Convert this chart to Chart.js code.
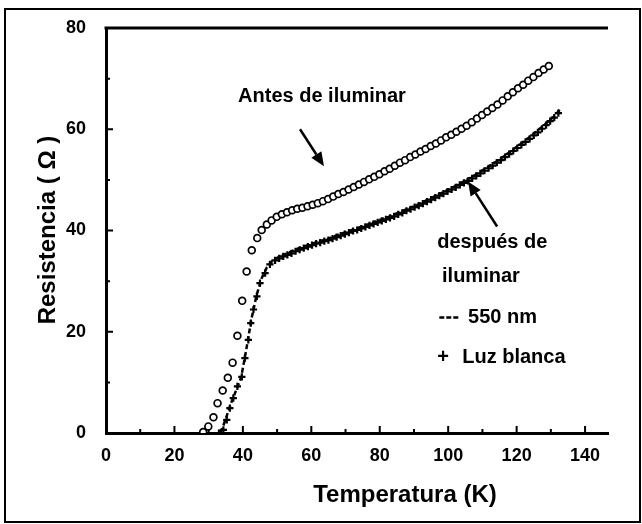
<!DOCTYPE html>
<html>
<head>
<meta charset="utf-8">
<script src="https://cdn.jsdelivr.net/npm/chart.js@4/dist/chart.umd.min.js"></script>
<style>
  html, body { margin: 0; padding: 0; background: #fff; }
  canvas { display: block; }
</style>
</head>
<body>
<canvas id="c" width="642" height="524"></canvas>
<script>
// Resistance vs temperature, before illumination (open circles)
const antesT = [28.4, 29.9, 31.4, 32.6, 34.1, 35.6, 37.0, 38.4, 39.8, 41.1, 42.6, 44.2, 45.5, 47.0, 48.4, 49.9,
  51.4, 52.9, 54.4, 55.9, 57.4, 58.9, 60.4, 61.9, 63.4, 64.9, 66.4, 67.9, 69.4, 70.9, 72.4, 73.9, 75.4, 76.9, 78.4, 79.9,
  81.4, 82.9, 84.4, 85.9, 87.4, 88.9, 90.4, 91.9, 93.4, 94.9, 96.4, 97.9, 99.4, 100.9, 102.4, 103.9, 105.4, 106.9, 108.4,
  109.9, 111.4, 112.9, 114.4, 115.9, 117.4, 118.9, 120.4, 121.9, 123.4, 124.9, 126.4, 127.9, 129.4];
const antesR = [0.2, 1.3, 3.1, 5.9, 8.4, 10.9, 13.9, 19.2, 26.1, 31.9, 36.1, 38.5, 40.1, 41.2, 42.0, 42.7,
  43.2, 43.6, 44.0, 44.3, 44.5, 44.8, 45.1, 45.4, 45.8, 46.2, 46.7, 47.2, 47.6, 48.1, 48.6, 49.1, 49.6, 50.1, 50.6, 51.1,
  51.7, 52.2, 52.8, 53.4, 53.9, 54.5, 55.0, 55.6, 56.1, 56.7, 57.2, 57.8, 58.4, 58.9, 59.5, 60.1, 60.7, 61.4, 62.1,
  62.8, 63.5, 64.2, 64.9, 65.7, 66.5, 67.3, 68.1, 68.8, 69.6, 70.3, 71.1, 71.8, 72.5];

// After illumination with white light (+ markers)
const blancaT = [33.0, 34.3, 35.3, 36.2, 37.2, 38.4, 39.7, 40.6, 41.6, 42.3, 43.1, 44.1, 45.0, 46.5, 47.9, 49.4,
  50.6, 51.8, 53.0, 54.2, 55.4, 56.6, 57.8, 59.0, 60.2, 61.4, 62.6, 63.8, 65.0, 66.2, 67.4, 68.6, 69.8, 71.0, 72.2,
  73.4, 74.6, 75.8, 77.0, 78.2, 79.4, 80.6, 81.8, 83.0, 84.2, 85.4, 86.6, 87.8, 89.0, 90.2, 91.4, 92.6, 93.8, 95.0,
  96.2, 97.4, 98.6, 99.8, 101.0, 102.2, 103.4, 104.6, 105.8, 107.0, 108.2, 109.4, 110.6, 111.8, 113.0, 114.2, 115.4,
  116.6, 117.8, 119.0, 120.2, 121.4, 122.6, 123.8, 125.0, 126.2, 127.4, 128.6, 129.8, 131.0, 132.2];
const blancaR = [0.0, 0.6, 2.6, 4.9, 6.9, 9.2, 11.1, 14.8, 18.4, 21.7, 24.4, 27.0, 29.6, 31.6, 33.3, 34.1,
  34.5, 34.9, 35.2, 35.5, 35.9, 36.2, 36.5, 36.8, 37.1, 37.4, 37.6, 37.9, 38.1, 38.4, 38.7, 39.0, 39.3, 39.6, 39.9,
  40.1, 40.4, 40.7, 41.0, 41.3, 41.6, 41.9, 42.2, 42.5, 42.8, 43.2, 43.5, 43.9, 44.2, 44.6, 44.9, 45.3, 45.7, 46.1,
  46.5, 46.9, 47.3, 47.7, 48.1, 48.5, 49.0, 49.4, 49.8, 50.3, 50.8, 51.3, 51.8, 52.3, 52.8, 53.4, 53.9,
  54.5, 55.1, 55.7, 56.3, 56.9, 57.5, 58.1, 58.8, 59.4, 60.1, 60.8, 61.6, 62.3, 63.2];

// After illumination at 550 nm (dashed line)
const nm550T = [33.5, 35.0, 36.5, 38.0, 39.5, 41.0, 42.5, 44.0, 45.5, 47.0, 48.5, 50.0, 53.0, 56.0, 59.0, 62.0, 65.0,
  68.0, 71.0, 74.0, 77.0, 80.0, 83.0, 86.0, 89.0, 92.0, 95.0, 98.0, 101.0, 104.0, 107.0, 110.0, 113.0, 116.0, 119.0,
  122.0, 125.0, 128.0, 131.0, 132.8];
const nm550R = [0.0, 2.8, 5.8, 8.4, 11.0, 16.5, 22.5, 27.2, 30.6, 32.7, 33.9, 34.6, 35.5, 36.4, 37.1, 37.8, 38.4,
  39.2, 39.9, 40.6, 41.3, 42.1, 42.8, 43.7, 44.5, 45.4, 46.4, 47.4, 48.4, 49.5, 50.6, 51.9, 53.1, 54.5, 56.0,
  57.5, 59.1, 60.8, 62.6, 64.0];

const xTicks = [0, 20, 40, 60, 80, 100, 120, 140];
const yTicks = [0, 20, 40, 60, 80];
const xMax = 146.7;

const FONT = "'Liberation Sans', Arial, Helvetica, sans-serif";

const toXY = (xs, ys) => xs.map((x, i) => ({ x: x, y: ys[i] }));

// Frame, inward ticks, axis titles and annotations
const decor = {
  id: 'decor',
  afterDraw(chart) {
    const ctx = chart.ctx;
    const xs = chart.scales.x, ys = chart.scales.y;
    const a = chart.chartArea;
    const X = v => xs.getPixelForValue(v);
    const Y = v => ys.getPixelForValue(v);
    ctx.save();

    // outer frame
    ctx.strokeStyle = '#000';
    ctx.lineWidth = 2;
    ctx.strokeRect(5, 9, 635, 513);

    // top line of the plot box
    ctx.lineWidth = 3;
    ctx.beginPath();
    ctx.moveTo(a.left - 1.5, a.top);
    ctx.lineTo(a.right, a.top);
    ctx.stroke();

    // inward ticks
    ctx.lineWidth = 2;
    ctx.beginPath();
    for (let v = 10; v <= 140; v += 10) {
      const len = v % 20 === 0 ? 7 : 4;
      ctx.moveTo(X(v), a.bottom);
      ctx.lineTo(X(v), a.bottom - len);
    }
    for (let v = 10; v < 80; v += 10) {
      const len = v % 20 === 0 ? 7 : 4;
      ctx.moveTo(a.left, Y(v));
      ctx.lineTo(a.left + len, Y(v));
    }
    ctx.stroke();

    ctx.fillStyle = '#000';
    // axis titles
    ctx.font = 'bold 24px ' + FONT;
    ctx.textAlign = 'center';
    ctx.textBaseline = 'middle';
    ctx.fillText('Temperatura (K)', 405, 495);
    ctx.save();
    ctx.translate(48, 230);
    ctx.rotate(-Math.PI / 2);
    ctx.fillText('Resistencia ( \u03A9 )', 0, 0);
    ctx.restore();

    // annotations
    ctx.font = 'bold 20px ' + FONT;
    ctx.textAlign = 'left';
    ctx.fillText('Antes de iluminar', X(38.6), Y(66.5));
    ctx.fillText('despu\u00E9s de', X(96.8), Y(37.6));
    ctx.fillText('iluminar', X(98.2), Y(30.9));
    ctx.fillText('550 nm', X(105.8), Y(22.8));
    ctx.fillText('Luz blanca', X(104.1), Y(15.0));
    ctx.textAlign = 'center';
    ctx.fillText('+', X(98.5), Y(15.0));

    // dashed line sample
    ctx.lineWidth = 2.5;
    ctx.setLineDash([5, 2]);
    ctx.beginPath();
    ctx.moveTo(X(97.4), Y(22.8));
    ctx.lineTo(X(103.3), Y(22.8));
    ctx.stroke();
    ctx.setLineDash([]);

    // arrows
    const arrow = (x0, y0, x1, y1) => {
      const ang = Math.atan2(y1 - y0, x1 - x0);
      const hl = 14, hw = 6;
      const bx = x1 - hl * Math.cos(ang), by = y1 - hl * Math.sin(ang);
      ctx.lineWidth = 2.5;
      ctx.beginPath();
      ctx.moveTo(x0, y0);
      ctx.lineTo(bx, by);
      ctx.stroke();
      ctx.beginPath();
      ctx.moveTo(x1, y1);
      ctx.lineTo(bx + hw * Math.sin(ang), by - hw * Math.cos(ang));
      ctx.lineTo(bx - hw * Math.sin(ang), by + hw * Math.cos(ang));
      ctx.closePath();
      ctx.fill();
    };
    arrow(X(56.7), Y(60.0), X(63.7), Y(52.7));
    arrow(X(114.3), Y(40.8), X(105.8), Y(49.7));

    ctx.restore();
  }
};

new Chart(document.getElementById('c'), {
  type: 'scatter',
  data: {
    datasets: [
      {
        label: 'Antes de iluminar',
        data: toXY(antesT, antesR),
        showLine: false,
        pointStyle: 'circle',
        pointRadius: 3.4,
        borderWidth: 1.7,
        borderColor: '#000',
        backgroundColor: '#fff'
      },
      {
        label: '550 nm',
        data: toXY(nm550T, nm550R),
        showLine: true,
        borderColor: '#000',
        borderWidth: 2.5,
        borderDash: [5, 3],
        pointRadius: 0,
        tension: 0
      },
      {
        label: 'Luz blanca',
        data: toXY(blancaT, blancaR),
        showLine: false,
        pointStyle: 'cross',
        pointRadius: 3.6,
        borderWidth: 2.2,
        borderColor: '#000',
        backgroundColor: '#000'
      }
    ]
  },
  options: {
    responsive: false,
    animation: false,
    devicePixelRatio: 1,
    layout: { padding: { top: 28, right: 34, left: 0, bottom: 0 } },
    plugins: { legend: { display: false }, tooltip: { enabled: false } },
    scales: {
      x: {
        type: 'linear',
        min: 0,
        max: xMax,
        afterBuildTicks: s => { s.ticks = xTicks.map(v => ({ value: v })); },
        afterFit: s => { s.height = 91; },
        grid: { display: false },
        border: { display: true, color: '#000', width: 3 },
        ticks: { color: '#000', padding: 4, maxRotation: 0, font: { family: FONT, size: 18, weight: 'bold' } }
      },
      y: {
        type: 'linear',
        min: 0,
        max: 80,
        afterBuildTicks: s => { s.ticks = yTicks.map(v => ({ value: v })); },
        afterFit: s => { s.width = 106; },
        grid: { display: false },
        border: { display: true, color: '#000', width: 3 },
        ticks: { color: '#000', padding: 12, font: { family: FONT, size: 18, weight: 'bold' } }
      }
    }
  },
  plugins: [decor]
});
</script>
</body>
</html>
